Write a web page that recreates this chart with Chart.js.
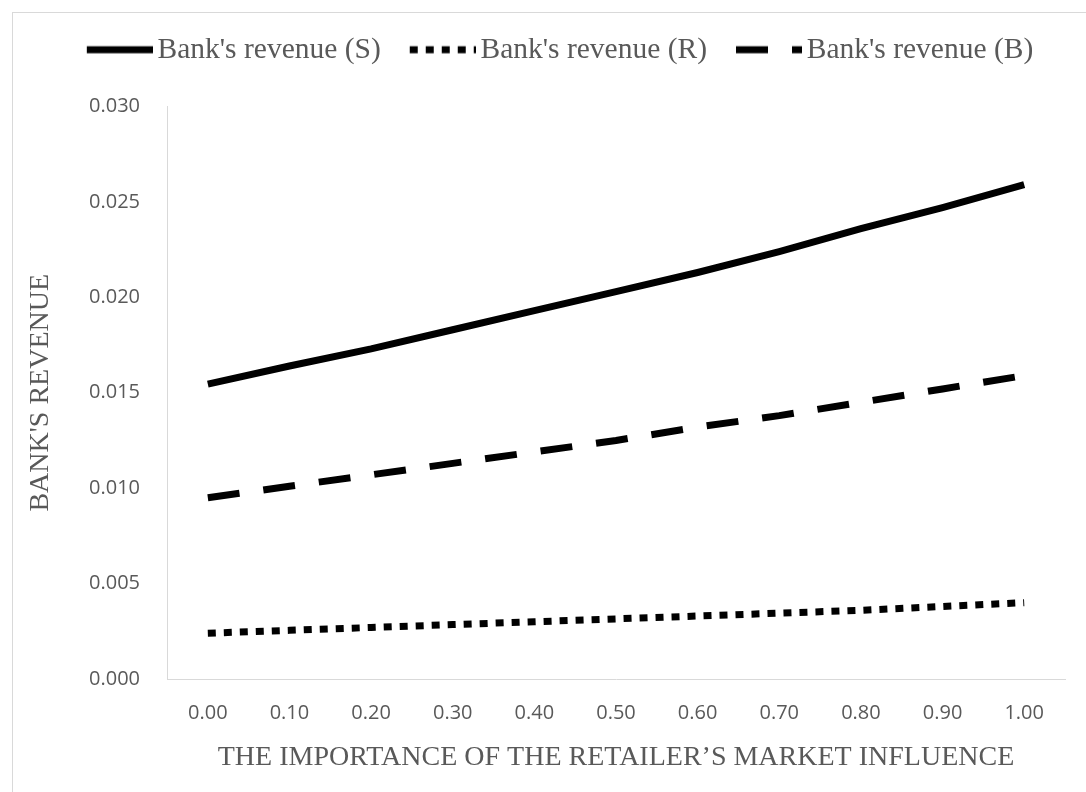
<!DOCTYPE html>
<html>
<head>
<meta charset="utf-8">
<script src="https://cdn.jsdelivr.net/npm/chart.js@4.4.1/dist/chart.umd.min.js"></script>
<style>
    html, body { margin: 0; padding: 0; background: #fff; overflow: hidden; }
    #frame {
        position: absolute;
        left: 12px;
        top: 12px;
        width: 1094px;
        height: 800px;
        border: 1px solid #d9d9d9;
    }
    #revenueChart { display: block; }
</style>
</head>
<body>
<div id="frame">
    <canvas id="revenueChart" width="1094" height="779"></canvas>
</div>
<script>
// Retailer market influence (x) and the bank's revenue under each scheme
const influence = ['0.00', '0.10', '0.20', '0.30', '0.40', '0.50', '0.60', '0.70', '0.80', '0.90', '1.00'];
const revenueS = [0.01545, 0.0164, 0.0173, 0.0183, 0.0193, 0.0203, 0.0213, 0.0224, 0.0236, 0.0247, 0.0259];
const revenueR = [0.0024, 0.00255, 0.0027, 0.00285, 0.0030, 0.00315, 0.0033, 0.00345, 0.0036, 0.0038, 0.0040];
const revenueB = [0.0095, 0.0101, 0.0107, 0.0113, 0.0119, 0.0125, 0.0132, 0.0138, 0.0145, 0.0152, 0.0159];

const serif = '"Liberation Serif", "Times New Roman", serif';
const sans = '"Open Sans", sans-serif';
const textGrey = '#595959';
const axisGrey = '#d9d9d9';
const lineWidth = 7;
const sampleWidth = 66;
const sampleLead = 10;   // swatch hangs this far left so the label sits close to it

// small canvas used as the legend swatch, so the dash pattern shows in the legend
function makeSample(dash) {
    const c = document.createElement('canvas');
    c.width = sampleWidth + sampleLead;
    c.height = 10;
    const ctx = c.getContext('2d');
    ctx.strokeStyle = '#000';
    ctx.lineWidth = lineWidth;
    ctx.lineCap = 'butt';
    ctx.setLineDash(dash);
    ctx.beginPath();
    ctx.moveTo(sampleLead, 5);
    ctx.lineTo(sampleLead + sampleWidth, 5);
    ctx.stroke();
    return c;
}

// nudge the legend row so it sits over the whole frame, not just the plot
const legendShift = {
    id: 'legendShift',
    afterLayout(chart) {
        const lg = chart.legend;
        const dx = 21, dy = -32;
        lg.left += dx; lg.right += dx;
        lg.top += dy; lg.bottom += dy;
    }
};

function lineSet(label, data, dash) {
    return {
        label: label,
        data: data,
        borderColor: '#000',
        backgroundColor: '#000',
        borderWidth: lineWidth,
        borderDash: dash,
        borderCapStyle: 'butt',
        pointStyle: makeSample(dash),
        pointRadius: 0,
        pointHoverRadius: 0,
        tension: 0,
        fill: false
    };
}

new Chart(document.getElementById('revenueChart'), {
    type: 'line',
    data: {
        labels: influence,
        datasets: [
            lineSet("Bank's revenue (S)", revenueS, []),
            lineSet("Bank's revenue (R)", revenueR, [8, 8]),
            lineSet("Bank's revenue (B)", revenueB, [32, 24])
        ]
    },
    options: {
        responsive: false,
        animation: false,
        layout: { padding: { left: 0, right: 42, top: 25, bottom: 0 } },
        plugins: {
            tooltip: { enabled: false },
            legend: {
                position: 'top',
                labels: {
                    usePointStyle: true,
                    pointStyleWidth: sampleWidth - sampleLead,
                    boxWidth: sampleWidth - sampleLead,
                    padding: 29,
                    color: textGrey,
                    font: { family: serif, size: 29.5 }
                }
            }
        },
        scales: {
            x: {
                offset: true,
                grid: { display: false, drawTicks: false },
                border: { display: true, color: axisGrey, width: 1 },
                ticks: {
                    padding: 22,
                    color: textGrey,
                    font: { family: sans, size: 20 },
                    maxRotation: 0
                },
                title: {
                    display: true,
                    text: 'THE IMPORTANCE OF THE RETAILER\u2019S MARKET INFLUENCE',
                    color: textGrey,
                    font: { family: serif, size: 28 },
                    padding: { top: 0, bottom: 18 }
                },
                afterFit(scale) { scale.height = 113; }
            },
            y: {
                min: 0,
                max: 0.03,
                grid: { display: false, drawTicks: false },
                border: { display: true, color: axisGrey, width: 1 },
                ticks: {
                    stepSize: 0.005,
                    padding: 27,
                    color: textGrey,
                    font: { family: sans, size: 20 },
                    callback: v => v.toFixed(3)
                },
                title: {
                    display: true,
                    text: "BANK'S REVENUE",
                    color: textGrey,
                    font: { family: serif, size: 28 },
                    padding: { top: 11, bottom: 0 }
                },
                afterFit(scale) { scale.width = 154; }
            }
        }
    },
    plugins: [legendShift]
});
</script>
</body>
</html>
